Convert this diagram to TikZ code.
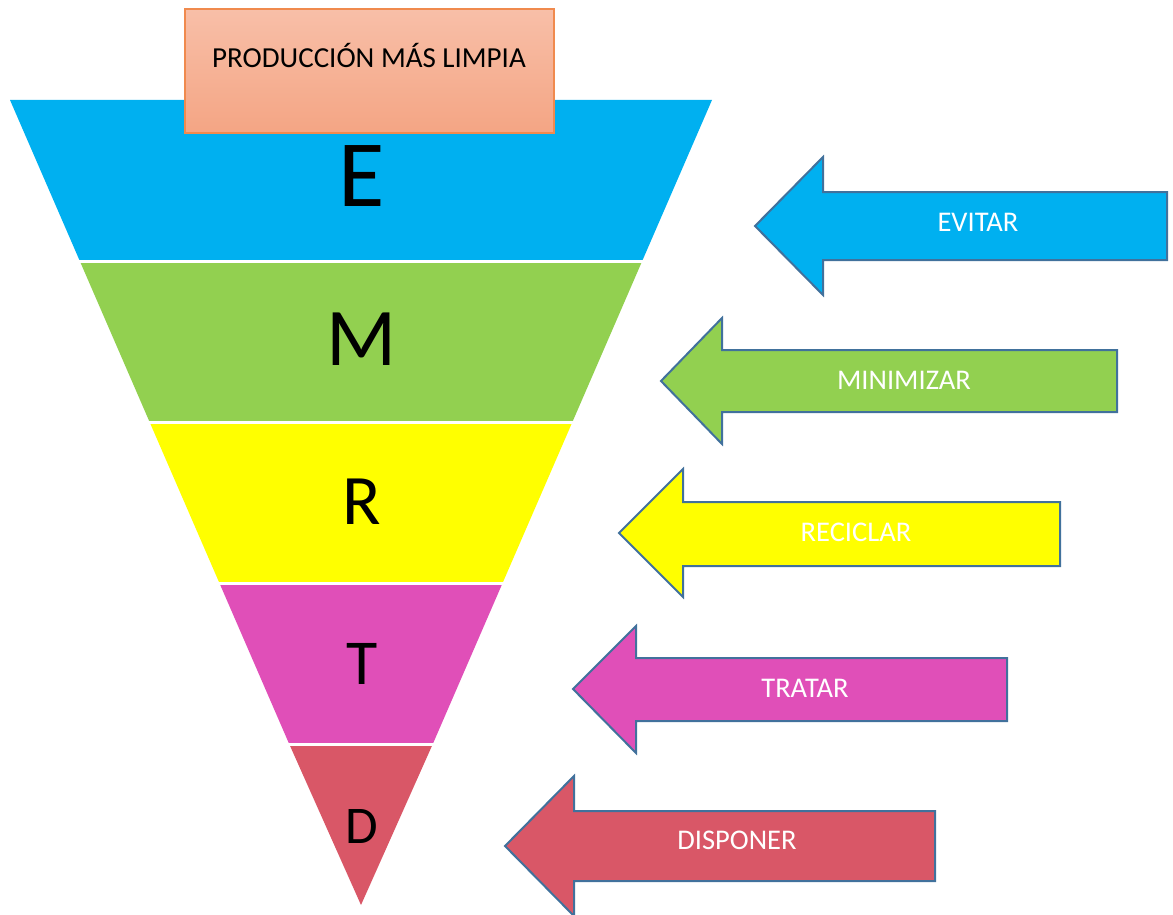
\documentclass[tikz,border=0pt]{standalone}
\usepackage{fontspec}
\setmainfont{Carlito}
\definecolor{cblue}{HTML}{00B0F0}
\definecolor{cgreen}{HTML}{92D050}
\definecolor{cyellow}{HTML}{FFFF00}
\definecolor{cmag}{HTML}{E04FB8}
\definecolor{cred}{HTML}{D95767}
\definecolor{aline}{HTML}{41719C}
\definecolor{oline}{HTML}{F08A4E}
\definecolor{otop}{HTML}{F8BFA8}
\definecolor{obot}{HTML}{F4A584}
\tikzset{
  band/.style={draw=none},
  sep/.style={draw=white,line width=3pt},
  letter/.style={anchor=base,inner sep=0pt,text=black},
  arrowbox/.style={draw=aline,line width=2pt,line join=miter},
  alabel/.style={anchor=base,inner sep=0pt,text=white,font=\fontsize{28.5}{30}\selectfont},
}
\begin{document}
\begin{tikzpicture}[x=1pt,y=-1pt]
\useasboundingbox (0,0) rectangle (1173,915);
% funnel bands
\coordinate (tl) at (10,100);
\coordinate (tr) at (712,100);
\coordinate (tip) at (361,905);
\fill[cblue]   (10,100) -- (712,100) -- (642.2,261) -- (79.8,261) -- cycle;
\fill[cgreen]  (79.8,261) -- (642.2,261) -- (572.4,422) -- (149.6,422) -- cycle;
\fill[cyellow] (149.6,422) -- (572.4,422) -- (502.6,583) -- (219.4,583) -- cycle;
\fill[cmag]    (219.4,583) -- (502.6,583) -- (432.8,744) -- (289.2,744) -- cycle;
\fill[cred]    (289.2,744) -- (432.8,744) -- (361,905) -- cycle;
\draw[sep] (70,261) -- (652,261);
\draw[sep] (140,422) -- (582,422);
\draw[sep] (210,583) -- (512,583);
\draw[sep] (280,744) -- (442,744);
% letters
\node[letter,font=\fontsize{95}{100}\selectfont] (E) at (362,207) {E};
\node[letter,font=\fontsize{82}{86}\selectfont] (M) at (362,365) {M};
\node[letter,font=\fontsize{71}{75}\selectfont] (R) at (362,524) {R};
\node[letter,font=\fontsize{64}{68}\selectfont] (T) at (362,684) {T};
\node[letter,font=\fontsize{53}{56}\selectfont] (D) at (362,843) {D};
% title box
\draw[draw=oline,line width=1.5pt,top color=otop,bottom color=obot] (185,9) rectangle (554,133);
\node[anchor=base,inner sep=0pt,font=\fontsize{29}{31}\selectfont] (title) at (369,68) {PRODUCCIÓN MÁS LIMPIA};
% arrows
\draw[arrowbox,fill=cblue] (755,226) -- (823,157) -- (823,192) -- (1167,192) -- (1167,260) -- (823,260) -- (823,295) -- cycle;
\node[alabel] (a1) at (978,231) {EVITAR};
\draw[arrowbox,fill=cgreen] (661,381) -- (722,318) -- (722,350) -- (1117,350) -- (1117,412) -- (722,412) -- (722,444) -- cycle;
\node[alabel] (a2) at (904,389) {MINIMIZAR};
\draw[arrowbox,fill=cyellow] (619,533) -- (683,469) -- (683,502) -- (1060,502) -- (1060,566) -- (683,566) -- (683,597) -- cycle;
\node[alabel] (a3) at (856,541) {RECICLAR};
\draw[arrowbox,fill=cmag] (573,689) -- (636,626) -- (636,658) -- (1007,658) -- (1007,721) -- (636,721) -- (636,753) -- cycle;
\node[alabel] (a4) at (805,697) {TRATAR};
\draw[arrowbox,fill=cred] (505,846) -- (574,776) -- (574,811) -- (935,811) -- (935,881) -- (574,881) -- (574,916) -- cycle;
\node[alabel] (a5) at (737,849) {DISPONER};
\end{tikzpicture}
\end{document}
